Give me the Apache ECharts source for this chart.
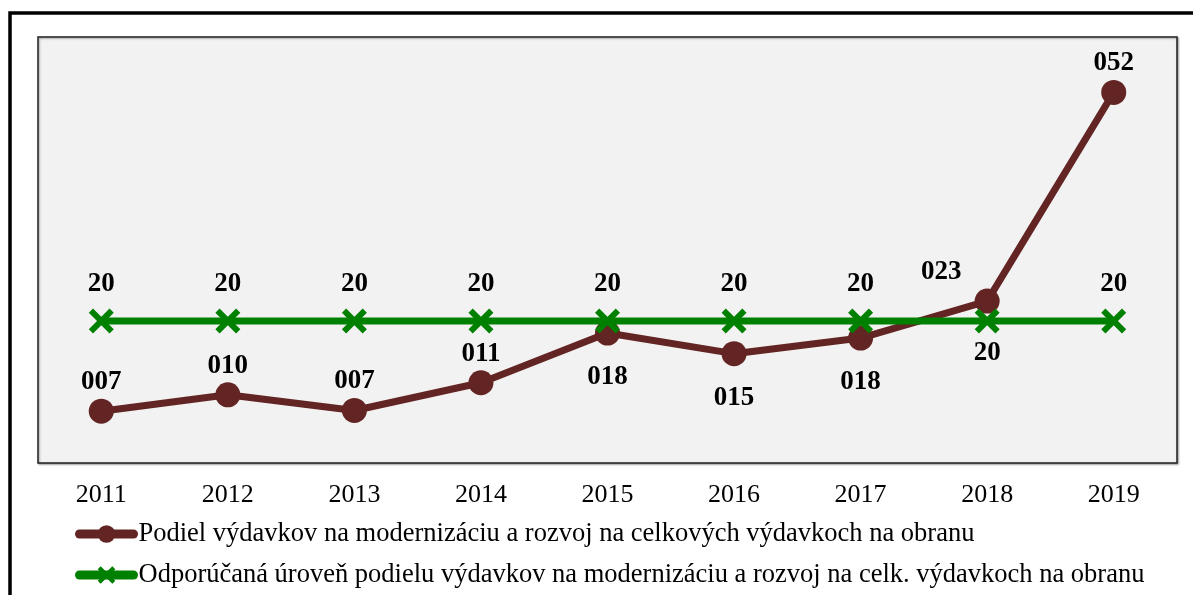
<!DOCTYPE html>
<html>
<head>
<meta charset="utf-8">
<script src="https://cdn.jsdelivr.net/npm/echarts@6/dist/echarts.min.js"></script>
<style>
  html, body { margin: 0; padding: 0; background: #fff; }
  #chart { width: 1193px; height: 595px; }
</style>
</head>
<body>
<div id="chart"></div>
<script>
const years = ['2011', '2012', '2013', '2014', '2015', '2016', '2017', '2018', '2019'];
const shareValues = [7.3, 9.6, 7.4, 11.3, 18.3, 15.4, 17.6, 22.8, 52.2];
const recommendedValues = [20, 20, 20, 20, 20, 20, 20, 20, 20];
const seriesNames = [
  'Podiel výdavkov na modernizáciu a rozvoj na celkových výdavkoch na obranu',
  'Odporúčaná úroveň podielu výdavkov na modernizáciu a rozvoj na celk. výdavkoch na obranu'
];

const BROWN = '#632523';
const GREEN = '#008000';
const FONT = '"Liberation Serif", "Times New Roman", serif';
const CROSS = 'path://M0,1.7 L1.7,0 L5,3.3 L8.3,0 L10,1.7 L6.7,5 L10,8.3 L8.3,10 L5,6.7 L1.7,10 L0,8.3 L3.3,5 Z';

const pad3 = v => String(Math.round(v)).padStart(3, '0');

const chart = echarts.init(document.getElementById('chart'), null, { renderer: 'canvas' });

// brown labels: most sit above the point, 2015-2017 below, 2018 shifted left
const shareData = shareValues.map((v, i) => {
  const item = { value: v };
  if (i >= 4 && i <= 6) item.label = { position: 'bottom', distance: 18 };
  if (i === 7) item.label = { offset: [-46, 0] };
  return item;
});
const recData = recommendedValues.map((v, i) => {
  const item = { value: v };
  if (i === 7) item.label = { position: 'bottom', distance: 6 };
  return item;
});

const option = {
  animation: false,
  backgroundColor: '#fff',
  textStyle: { fontFamily: FONT },
  graphic: [
    {
      type: 'rect',
      shape: { x: 10, y: 13, width: 1220, height: 620 },
      style: { fill: 'none', stroke: '#000', lineWidth: 3.5 },
      silent: true
    }
  ],
  grid: {
    left: 38, right: 16, top: 37, bottom: 132,
    show: true,
    backgroundColor: '#f2f2f2',
    borderColor: '#222',
    borderWidth: 1.5,
    shadowColor: 'rgba(0,0,0,0.35)',
    shadowBlur: 2,
    shadowOffsetX: 1,
    shadowOffsetY: 1
  },
  xAxis: {
    type: 'category',
    data: years,
    boundaryGap: true,
    axisLine: { show: false },
    axisTick: { show: false },
    axisLabel: { color: '#000', fontFamily: FONT, fontSize: 26, margin: 19 }
  },
  yAxis: {
    type: 'value',
    min: 0,
    max: 60,
    interval: 10,
    show: false,
    splitLine: { show: false }
  },
  legend: {
    orient: 'vertical',
    left: 75,
    top: 519,
    height: 76,
    padding: 0,
    itemWidth: 54,
    itemHeight: 22,
    itemGap: 11,
    lineStyle: { width: 9, cap: 'round' },
    textStyle: { color: '#000', fontFamily: FONT, fontSize: 26.5, lineHeight: 30 },
    data: seriesNames
  },
  series: [
    {
      name: seriesNames[0],
      type: 'line',
      data: shareData,
      z: 2,
      symbol: 'circle',
      symbolSize: 25,
      lineStyle: { color: BROWN, width: 7 },
      itemStyle: { color: BROWN },
      label: {
        show: true,
        position: 'top',
        distance: 3,
        color: '#000',
        fontFamily: FONT,
        fontWeight: 'bold',
        fontSize: 27,
        formatter: p => pad3(p.value)
      }
    },
    {
      name: seriesNames[1],
      type: 'line',
      data: recData,
      z: 3,
      symbol: CROSS,
      symbolSize: 25,
      lineStyle: { color: GREEN, width: 7 },
      itemStyle: { color: GREEN },
      label: {
        show: true,
        position: 'top',
        distance: 11,
        color: '#000',
        fontFamily: FONT,
        fontWeight: 'bold',
        fontSize: 27,
        formatter: p => String(p.value)
      }
    }
  ]
};

chart.setOption(option);
</script>
</body>
</html>
